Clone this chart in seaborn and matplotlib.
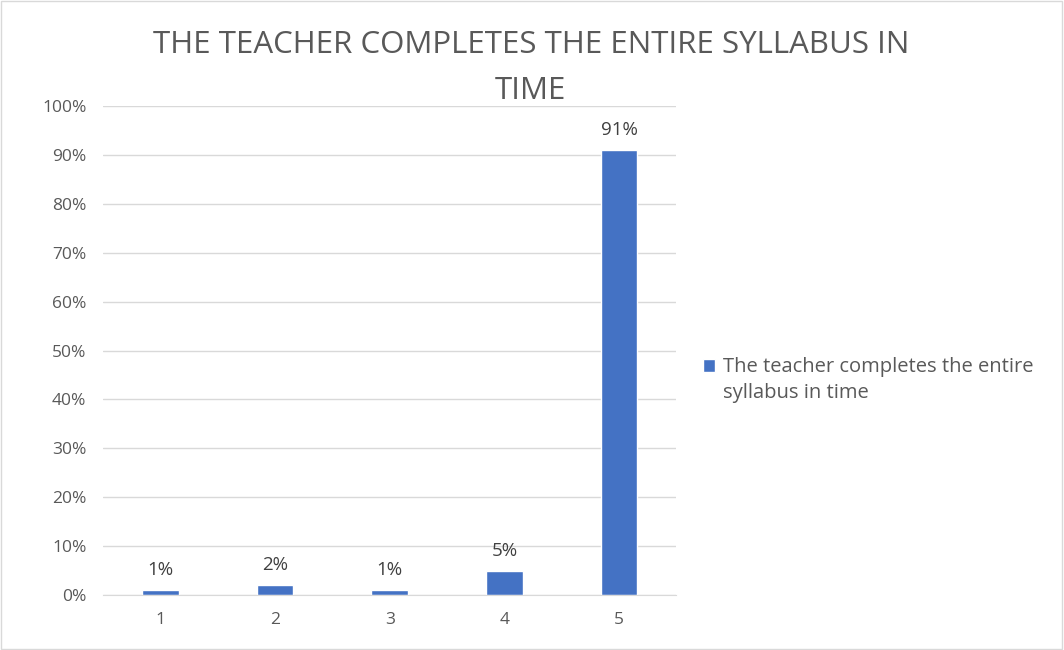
import seaborn as sns
import matplotlib.pyplot as plt
import pandas as pd
from matplotlib.patches import Rectangle
from matplotlib.container import BarContainer
from matplotlib.legend_handler import HandlerPatch, update_from_first_child

categories = ["1", "2", "3", "4", "5"]
values = [0.01, 0.02, 0.01, 0.05, 0.91]
labels = ["1%", "2%", "1%", "5%", "91%"]
series_name = "The teacher completes the entire\nsyllabus in time"
title = "THE TEACHER COMPLETES THE ENTIRE SYLLABUS IN\nTIME"

sns.set_style("white")
plt.rcParams['font.family'] = ['Open Sans', 'DejaVu Sans']

df = pd.DataFrame({"cat": categories, "val": values})

fig = plt.figure(figsize=(10.64, 6.5), dpi=100)
ax = fig.add_axes([0.0968, 0.0846, 0.539, 0.752])
sns.barplot(data=df, x="cat", y="val", color="#4472C4", width=0.32,
            saturation=1, ax=ax, label=series_name)

for i, (v, t) in enumerate(zip(values, labels)):
    ax.text(i, v + 0.022, t, ha="center", va="bottom", fontsize=13.5, color="#404040")

ax.set_ylim(0, 1)
ax.set_yticks([i / 10 for i in range(11)])
ax.set_yticklabels([f"{i * 10}%" for i in range(11)])
ax.yaxis.grid(True, color="#D9D9D9", linewidth=1)
ax.set_axisbelow(True)
for s in ["left", "right", "top"]:
    ax.spines[s].set_visible(False)
ax.spines["bottom"].set_color("#D9D9D9")
ax.tick_params(axis="y", labelsize=12.5, colors="#595959", length=0, pad=12)
ax.tick_params(axis="x", labelsize=12.5, colors="#595959", length=0, pad=12)
ax.set_xlabel("")
ax.set_ylabel("")


# put the legend square next to the first line of the label
def top_patch(legend, orig_handle, xdescent, ydescent, width, height, fontsize):
    return Rectangle((-xdescent, -ydescent + fontsize * 0.72), width, height)


ax.legend(loc="center left", bbox_to_anchor=(1.015, 0.44), frameon=False,
          fontsize=14.5, handlelength=0.6, handleheight=0.6, handletextpad=0.4,
          labelcolor="#595959", labelspacing=0.3,
          handler_map={BarContainer: HandlerPatch(patch_func=top_patch,
                                                  update_func=update_from_first_child)})
for t in ax.get_legend().get_texts():
    t.set_linespacing(1.45)

fig.text(0.499, 0.896, title, ha="center", va="center", fontsize=22.5,
         color="#595959", linespacing=1.7)

fig.patches.append(Rectangle((0.001, 0.002), 0.997, 0.996, transform=fig.transFigure,
                             fill=False, edgecolor="#D9D9D9", linewidth=1))

plt.savefig("out.png", dpi=100)
